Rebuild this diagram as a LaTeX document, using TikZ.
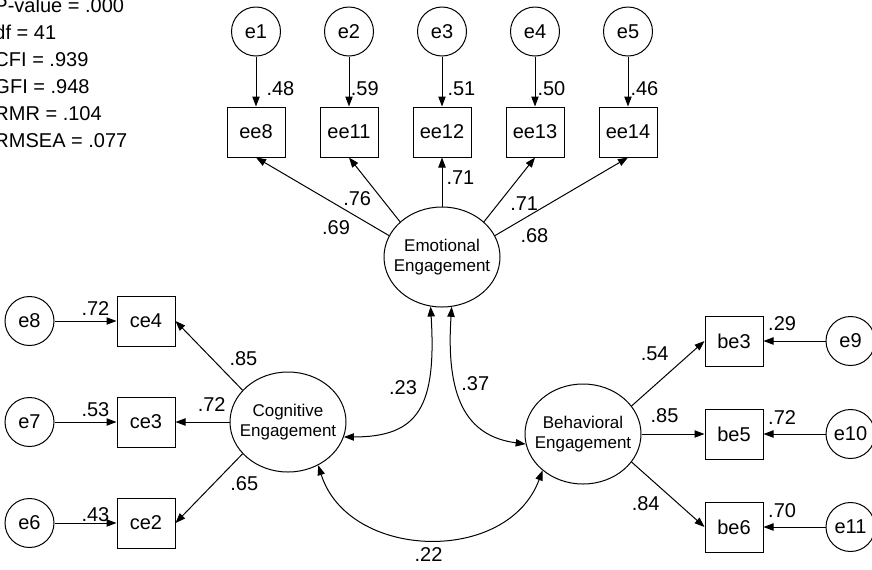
\documentclass[tikz,border=0pt]{standalone}
\usepackage{fontspec}
\setmainfont{Liberation Sans}
\usetikzlibrary{positioning, shapes.geometric, arrows.meta}

\tikzset{
  obs/.style={draw, rectangle, minimum width=43.5pt, minimum height=37.5pt, inner sep=0pt, font=\fontsize{15}{18}\selectfont},
  err/.style={draw, circle, minimum size=36.75pt, inner sep=0pt, font=\fontsize{15}{18}\selectfont},
  latent/.style={draw, ellipse, minimum width=87pt, minimum height=75pt, inner xsep=-5.5pt, inner ysep=0pt, align=center, font=\fontsize{12.75}{15}\selectfont},
  coef/.style={inner sep=0pt, font=\fontsize{15}{18}\selectfont},
  fitstat/.style={inner sep=0pt, anchor=base west, font=\fontsize{15}{18}\selectfont}
}

\begin{document}
\begin{tikzpicture}[x=0.75pt, y=-0.75pt, line width=0.75pt, >={Triangle[length=7.5pt, width=5.5pt]}]
        \useasboundingbox (0,0) rectangle (872,569);
        %---------------------------
        \foreach \txt [count=\i from 0] in {P-value = .000, df = 41, CFI = .939, GFI = .948, RMR = .104, RMSEA = .077}
          \node[fitstat] (fit\i) at (-6,{12+27*\i}) {\txt};
        %---------------------------
        \node[latent] (emo) at (442,257) {Emotional\\Engagement};
        \node[latent] (cog) at (288,422) {Cognitive\\Engagement};
        \node[latent] (beh) at (583,434) {Behavioral\\Engagement};
        %---------------------------
        \node[obs] (ee12) at (442,132) {ee12};
        \node[obs, left=25.5pt of ee12] (ee11) {ee11};
        \node[obs, left=25.5pt of ee11] (ee8) {ee8};
        \node[obs, right=25.5pt of ee12] (ee13) {ee13};
        \node[obs, right=25.5pt of ee13] (ee14) {ee14};
        \node[err, above=37.5pt of ee8] (e1) {e1};
        \node[err, above=37.5pt of ee11] (e2) {e2};
        \node[err, above=37.5pt of ee12] (e3) {e3};
        \node[err, above=37.5pt of ee13] (e4) {e4};
        \node[err, above=37.5pt of ee14] (e5) {e5};
        %---------------------------
        \node[obs, left=40.5pt of cog] (ce3) {ce3};
        \node[obs, above=37.5pt of ce3] (ce4) {ce4};
        \node[obs, below=37.5pt of ce3] (ce2) {ce2};
        \node[err, left=46.5pt of ce4] (e8) {e8};
        \node[err, left=46.5pt of ce3] (e7) {e7};
        \node[err, left=46.5pt of ce2] (e6) {e6};
        %---------------------------
        \node[obs, right=47.25pt of beh] (be5) {be5};
        \node[obs, above=31.5pt of be5] (be3) {be3};
        \node[obs, below=31.5pt of be5] (be6) {be6};
        \node[err, right=46.5pt of be3] (e9) {e9};
        \node[err, right=46.5pt of be5] (e10) {e10};
        \node[err, right=46.5pt of be6] (e11) {e11};
        %--------------------------
        \path[->]
        (e1) edge node[coef, pos=.64, right=7.5pt] {.48} (ee8)
        (e2) edge node[coef, pos=.64, right=1pt] {.59} (ee11)
        (e3) edge node[coef, pos=.64, right=3.75pt] {.51} (ee12)
        (e4) edge node[coef, pos=.64, right=1.5pt] {.50} (ee13)
        (e5) edge node[coef, pos=.64, right=1.5pt] {.46} (ee14)
        (emo.158) edge node[coef, pos=.32, xshift=-7.8pt, yshift=-13pt] {.69} (ee8.south)
        (emo.140) edge node[coef, pos=.54, xshift=-11.5pt, yshift=-8.9pt] {.76} (ee11.south)
        (emo) edge node[coef, pos=.58, right=3pt] {.71} (ee12)
        (emo.40) edge node[coef, pos=.47, xshift=12.2pt, yshift=-9.3pt] {.71} (ee13.south)
        (emo.22) edge node[coef, pos=.22, xshift=7.65pt, yshift=-12.7pt] {.68} (ee14.south)
        (cog.145) edge node[coef, pos=.23, xshift=12.2pt, yshift=11.9pt] {.85} (ce4.east)
        (cog) edge node[coef, pos=.33, above=7.5pt] {.72} (ce3)
        (cog.215) edge node[coef, pos=.21, xshift=11.85pt, yshift=-11.4pt] {.65} (ce2.east)
        (e8) edge node[coef, pos=.66, above=3.5pt] {.72} (ce4)
        (e7) edge node[coef, pos=.66, above=3.5pt] {.53} (ce3)
        (e6) edge node[coef, pos=.66, above=0.5pt] {.43} (ce2)
        (beh.30) edge node[coef, pos=.53, xshift=-11.7pt, yshift=13.4pt] {.54} (be3.west)
        (beh) edge node[coef, pos=.365, above=8pt] {.85} (be5)
        (beh.-30) edge node[coef, pos=.39, xshift=-10.8pt, yshift=-12.3pt] {.84} (be6.west)
        (e9) edge node[coef, pos=.7, above=7.5pt] {.29} (be3)
        (e10) edge node[coef, pos=.7, above=6.75pt] {.72} (be5)
        (e11) edge node[coef, pos=.7, above=6.75pt] {.70} (be6);
        %--------------------------
        \draw[<->] (emo.257) .. controls +(6,100) and +(75,0) .. node[coef, pos=.35, left=7pt] {.23} (cog.-15);
        \draw[<->] (emo.-79) .. controls +(-6,90) and +(-60,-8) .. node[coef, pos=.35, right=4pt] {.37} (beh.190);
        \draw[<->] (cog.-55) .. controls +(30,95) and +(-35,95) .. node[coef, pos=.5, below=6pt] {.22} (beh.222);
\end{tikzpicture}
\end{document}
